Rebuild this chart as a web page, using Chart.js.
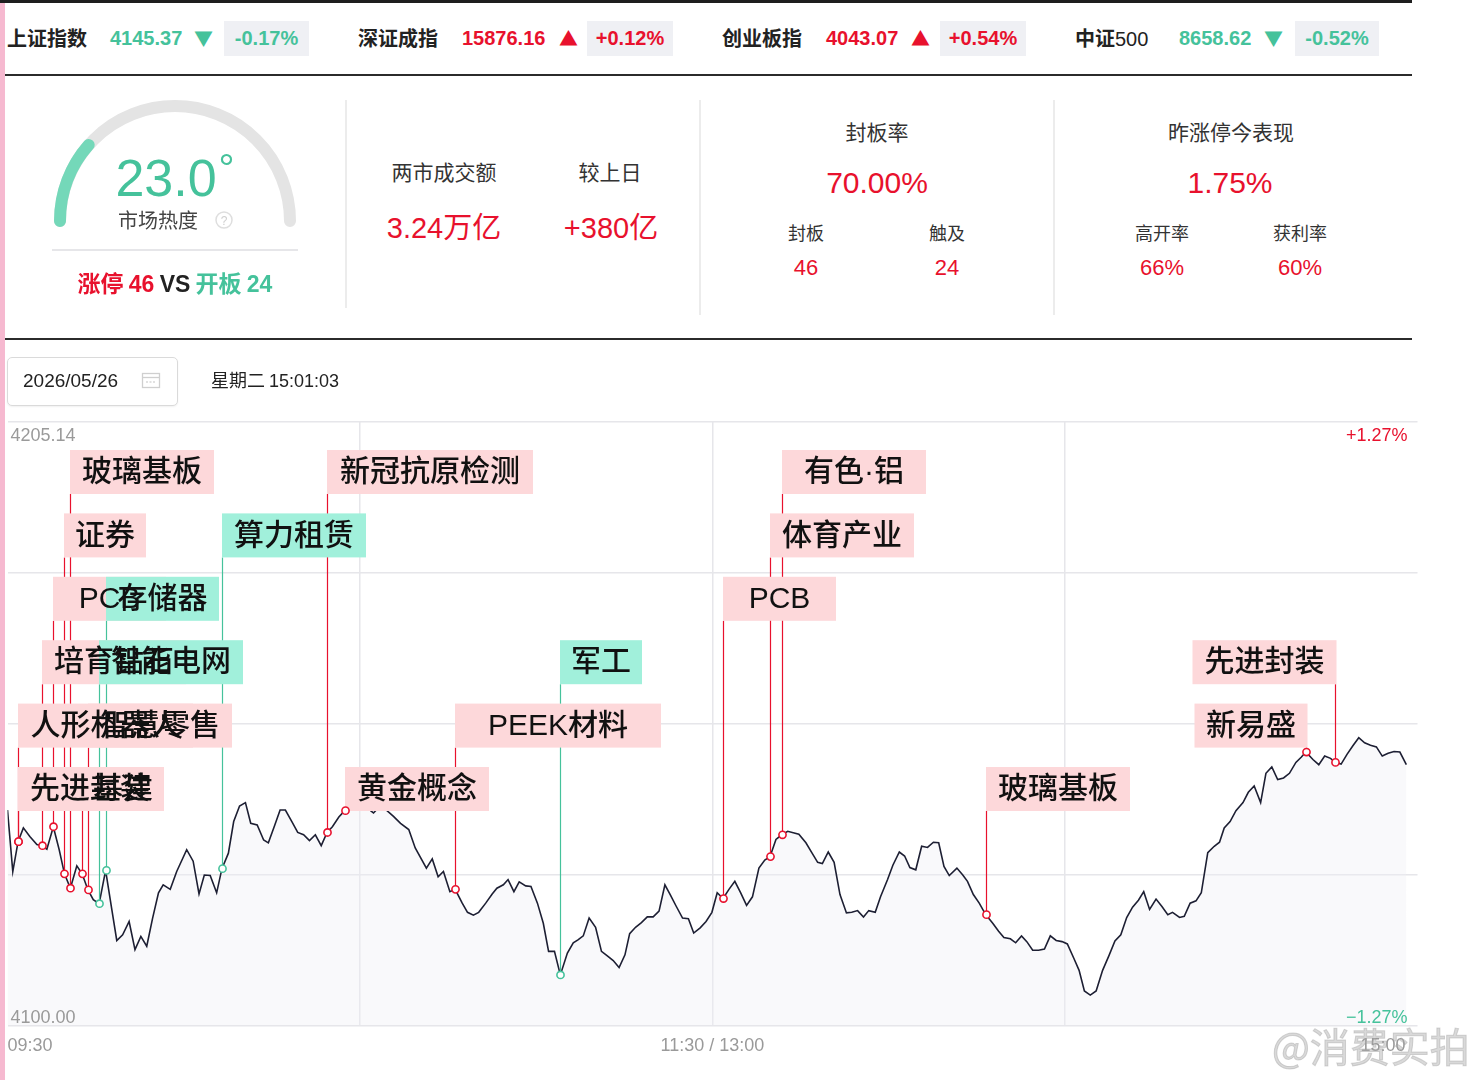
<!DOCTYPE html>
<html lang="zh-CN">
<head>
<meta charset="utf-8">
<title>大盘分时 热点标注</title>
<script src="https://cdn.jsdelivr.net/npm/chart.js"></script>
<style>
    body{margin:0;width:1475px;height:1080px;background:#fff;position:relative;overflow:hidden;
        font-family:"Noto Sans CJK SC","Liberation Sans",sans-serif;color:#222;}
    .a{position:absolute;white-space:nowrap;}
    .c{position:absolute;white-space:nowrap;transform:translateX(-50%);text-align:center;}
    .num{font-family:"Liberation Sans",Arial,sans-serif;}
    .hd{top:24px;height:28px;line-height:28px;font-size:20px;font-weight:bold;}
    .chg{top:21px;height:35px;line-height:35px;background:#eff0f4;text-align:center;font-size:20px;font-weight:bold;}
    .red{color:#e8112d;}
    .green{color:#45c29b;}
    .rule{position:absolute;background:#2b2b2b;}
    .vdiv{position:absolute;width:2px;background:#ececec;}
    #chart{position:absolute;left:0;top:400px;}
</style>
</head>
<body>

<canvas id="chart" width="1475" height="680"></canvas>

<!-- 左侧粉色边条 + 顶部分隔线 -->
<div class="a" style="left:0;top:0;width:5px;height:1080px;background:#f6b9d0;"></div>
<div class="rule" style="left:0;top:0;width:1412px;height:3px;background:#1e1e1e;"></div>

<!-- 指数行 -->
<div class="a hd" style="left:7px;">上证指数</div>
<div class="a hd num green" style="left:110px;">4145.37</div>
<div class="a hd green" style="left:194px;font-size:19px;">▼</div>
<div class="a chg num green" style="left:224px;width:85px;">-0.17%</div>

<div class="a hd" style="left:358px;">深证成指</div>
<div class="a hd num red" style="left:462px;">15876.16</div>
<div class="a hd red" style="left:559px;font-size:19px;">▲</div>
<div class="a chg num red" style="left:587px;width:86px;">+0.12%</div>

<div class="a hd" style="left:722px;">创业板指</div>
<div class="a hd num red" style="left:826px;">4043.07</div>
<div class="a hd red" style="left:911px;font-size:19px;">▲</div>
<div class="a chg num red" style="left:940px;width:86px;">+0.54%</div>

<div class="a hd" style="left:1075px;">中证<span class="num" style="font-weight:normal;">500</span></div>
<div class="a hd num green" style="left:1179px;">8658.62</div>
<div class="a hd green" style="left:1264px;font-size:19px;">▼</div>
<div class="a chg num green" style="left:1295px;width:84px;">-0.52%</div>

<div class="rule" style="left:5px;top:74px;width:1407px;height:2px;"></div>

<!-- 市场热度仪表 -->
<svg class="a" style="left:0;top:80px;" width="350" height="180" viewBox="0 80 350 180">
    <path d="M 60 221 A 115 115 0 0 1 290 221" fill="none" stroke="#e4e4e4" stroke-width="12" stroke-linecap="round"/>
    <path id="heatArc" d="" fill="none" stroke="#74d8b9" stroke-width="12" stroke-linecap="round"/>
</svg>
<div class="c num green" style="left:175px;top:136px;font-size:52px;line-height:64px;">23.0<span style="font-size:40px;vertical-align:14px;margin-left:2px;">°</span></div>
<div class="a" style="left:118px;top:207px;font-size:20px;line-height:26px;color:#444;">市场热度</div>
<svg class="a" style="left:214px;top:210px;" width="20" height="20">
    <circle cx="10" cy="10" r="8" fill="none" stroke="#dedede" stroke-width="1.5"/>
    <text x="10" y="14.5" font-size="12" text-anchor="middle" fill="#cfcfcf" font-family="Liberation Sans">?</text>
</svg>
<div class="a" style="left:52px;top:249px;width:246px;height:2px;background:#e6e6e9;"></div>
<div class="c" style="left:175px;top:267px;font-size:23px;line-height:30px;font-weight:bold;">
    <span class="red">涨停 <span class="num">46</span></span> <span class="num">VS</span> <span class="green">开板 <span class="num">24</span></span>
</div>

<div class="vdiv" style="left:345px;top:100px;height:208px;"></div>
<div class="vdiv" style="left:699px;top:100px;height:215px;"></div>
<div class="vdiv" style="left:1053px;top:100px;height:215px;"></div>

<!-- 成交额 -->
<div class="c" style="left:444px;top:157px;font-size:21px;line-height:28px;color:#333;">两市成交额</div>
<div class="c" style="left:610px;top:157px;font-size:21px;line-height:28px;color:#333;">较上日</div>
<div class="c red" style="left:444px;top:205px;font-size:29px;line-height:40px;"><span class="num">3.24</span>万亿</div>
<div class="c red" style="left:611px;top:205px;font-size:29px;line-height:40px;"><span class="num">+380</span>亿</div>

<!-- 封板率 -->
<div class="c" style="left:877px;top:117px;font-size:21px;line-height:28px;color:#333;">封板率</div>
<div class="c num red" style="left:877px;top:163px;font-size:30px;line-height:40px;">70.00%</div>
<div class="c" style="left:806px;top:219px;font-size:18px;line-height:26px;color:#333;">封板</div>
<div class="c" style="left:947px;top:219px;font-size:18px;line-height:26px;color:#333;">触及</div>
<div class="c num red" style="left:806px;top:254px;font-size:22px;line-height:28px;">46</div>
<div class="c num red" style="left:947px;top:254px;font-size:22px;line-height:28px;">24</div>

<!-- 昨涨停今表现 -->
<div class="c" style="left:1231px;top:117px;font-size:21px;line-height:28px;color:#333;">昨涨停今表现</div>
<div class="c num red" style="left:1230px;top:163px;font-size:30px;line-height:40px;">1.75%</div>
<div class="c" style="left:1162px;top:219px;font-size:18px;line-height:26px;color:#333;">高开率</div>
<div class="c" style="left:1300px;top:219px;font-size:18px;line-height:26px;color:#333;">获利率</div>
<div class="c num red" style="left:1162px;top:254px;font-size:22px;line-height:28px;">66%</div>
<div class="c num red" style="left:1300px;top:254px;font-size:22px;line-height:28px;">60%</div>

<div class="rule" style="left:5px;top:338px;width:1407px;height:2px;"></div>

<!-- 日期行 -->
<div class="a" style="left:7px;top:357px;width:169px;height:47px;border:1px solid #dadada;border-radius:5px;box-shadow:0 1px 2px rgba(0,0,0,0.06);background:#fff;"></div>
<div class="a num" style="left:23px;top:368px;font-size:19px;line-height:26px;color:#222;">2026/05/26</div>
<svg class="a" style="left:141px;top:371px;" width="20" height="18">
    <rect x="1.5" y="2.5" width="17" height="14" fill="none" stroke="#cfcfcf" stroke-width="1.3"/>
    <line x1="1.5" y1="6.5" x2="18.5" y2="6.5" stroke="#cfcfcf" stroke-width="1.3"/>
    <line x1="5" y1="11" x2="15" y2="11" stroke="#d8d8d8" stroke-width="1.3" stroke-dasharray="2 1.5"/>
</svg>
<div class="a" style="left:211px;top:366px;font-size:18px;line-height:26px;color:#222;">星期二 <span class="num">15:01:03</span></div>

<!-- 水印 -->
<div class="a" style="left:1272px;top:1018px;font-size:40px;line-height:54px;color:rgba(170,170,170,0.45);-webkit-text-stroke:1px rgba(150,150,150,0.35);">@消费实拍</div>

<script>
// 分时数据: 距 09:30 的分钟数 (午休折叠, 120 = 11:30/13:00)
const minutes = [
    0, 0.9, 1.8, 2.7, 3.8, 5.0, 5.8, 6.7, 7.8, 8.8,
    9.7, 10.7, 11.8, 12.7, 13.7, 14.6, 15.6, 16.7, 17.8, 18.6,
    19.6, 20.7, 21.7, 22.7, 23.7, 24.7, 25.7, 26.5, 27.7, 28.8,
    30.5, 31.6, 32.6, 33.5, 34.5, 35.6, 36.5, 37.6, 38.5, 39.5,
    40.5, 41.4, 42.5, 43.6, 44.4, 45.5, 46.4, 47.3, 48.4, 49.4,
    50.4, 51.4, 52.4, 53.4, 54.4, 55.3, 56.4, 57.4, 58.4, 59.4,
    60.4, 61.4, 62.3, 63.3, 64.5, 65.7, 66.9, 68.3, 69.4, 71.3,
    72.3, 73.3, 74.2, 75.3, 76.2, 77.4, 78.3, 79.3, 80.2, 81.4,
    82.5, 83.3, 84.4, 85.2, 86.2, 87.1, 88.2, 89.1, 90.2, 91.2,
    92.1, 93.1, 94.1, 95.3, 96.3, 97.1, 98.0, 99.0, 100.1, 101.1,
    102.1, 103.1, 104.1, 105.1, 105.9, 106.9, 107.9, 108.9, 109.9, 110.9,
    111.9, 112.8, 113.8, 114.9, 115.9, 116.8, 117.9, 118.9, 119.9, 120.8,
    121.8, 122.8, 123.8, 124.8, 125.8, 126.8, 127.9, 128.9, 129.8, 130.8,
    131.8, 132.8, 134.7, 135.9, 136.9, 137.9, 138.7, 139.7, 140.7, 141.7,
    142.8, 143.7, 144.7, 145.7, 146.6, 147.7, 148.6, 149.8, 150.7, 151.8,
    152.7, 153.6, 154.6, 155.6, 156.6, 157.6, 158.5, 159.4, 160.3, 161.6,
    162.6, 163.4, 164.4, 165.4, 166.5, 167.7, 168.7, 169.6, 170.7, 171.6,
    172.6, 173.5, 174.5, 175.5, 176.5, 177.5, 178.5, 179.5, 180.4, 181.5,
    182.4, 183.3, 184.3, 185.3, 186.4, 187.5, 188.5, 189.5, 190.5, 191.5,
    192.5, 193.4, 194.4, 195.5, 196.5, 197.5, 198.3, 199.5, 200.3, 201.3,
    202.3, 203.2, 204.3, 205.4, 206.3, 207.1, 208.1, 209.1, 210.3, 211.2,
    212.2, 213.3, 214.2, 215.2, 216.2, 217.2, 218.2, 219.3, 220.2, 221.0,
    222.2, 223.2, 224.2, 225.2, 226.0, 227.0, 228.0, 229.0, 230.0, 231.0,
    232.0, 233.0, 234.0, 235.0, 236.0, 237.0, 238.1
];

const prices = [
    4137.5, 4126.8, 4132.0, 4134.4, 4132.9, 4131.5, 4131.3, 4130.7, 4134.6, 4130.6,
    4126.4, 4123.9, 4127.8, 4126.4, 4123.6, 4121.9, 4121.2, 4127.0, 4119.9, 4114.8,
    4115.8, 4118.1, 4113.2, 4115.5, 4113.8, 4118.7, 4123.1, 4124.5, 4123.7, 4126.8,
    4130.6, 4128.6, 4122.9, 4126.2, 4126.1, 4123.1, 4127.3, 4130.0, 4135.5, 4138.2,
    4138.8, 4135.2, 4134.9, 4132.3, 4131.8, 4134.9, 4137.5, 4137.5, 4135.5, 4133.6,
    4133.2, 4132.2, 4133.2, 4131.3, 4133.6, 4134.6, 4136.3, 4137.4, 4138.2, 4138.8,
    4138.2, 4137.7, 4137.0, 4138.1, 4137.5, 4136.4, 4135.2, 4134.1, 4130.9, 4127.4,
    4129.0, 4125.9, 4126.8, 4123.3, 4123.7, 4121.3, 4119.7, 4119.2, 4119.7, 4121.3,
    4122.9, 4123.9, 4124.5, 4125.4, 4123.3, 4125.0, 4124.3, 4124.2, 4121.3, 4117.8,
    4112.9, 4112.9, 4108.8, 4112.6, 4114.4, 4114.9, 4115.6, 4118.7, 4117.1, 4112.9,
    4112.1, 4111.3, 4110.1, 4112.3, 4116.0, 4117.1, 4117.9, 4118.9, 4118.9, 4119.9,
    4124.5, 4122.8, 4120.8, 4118.7, 4118.6, 4116.1, 4117.0, 4118.1, 4119.7, 4123.1,
    4122.1, 4123.7, 4125.1, 4123.1, 4120.9, 4122.4, 4127.4, 4128.8, 4129.4, 4132.4,
    4133.2, 4133.8, 4133.3, 4131.8, 4130.1, 4128.4, 4128.2, 4130.2, 4128.4, 4122.8,
    4119.6, 4119.7, 4120.0, 4118.9, 4120.0, 4119.7, 4122.4, 4125.4, 4127.9, 4130.2,
    4129.5, 4127.5, 4127.1, 4131.2, 4131.0, 4131.9, 4131.8, 4127.7, 4126.1, 4127.4,
    4126.2, 4125.1, 4122.8, 4121.3, 4119.3, 4117.8, 4116.4, 4115.3, 4115.1, 4114.4,
    4115.6, 4114.6, 4113.1, 4113.1, 4113.3, 4115.6, 4114.8, 4114.6, 4114.2, 4111.7,
    4109.6, 4106.0, 4105.3, 4106.0, 4109.6, 4112.2, 4114.7, 4115.8, 4118.8, 4120.6,
    4121.8, 4123.3, 4120.2, 4122.0, 4120.7, 4119.3, 4119.7, 4118.8, 4119.0, 4121.3,
    4121.7, 4123.1, 4130.1, 4131.2, 4131.9, 4134.4, 4135.5, 4137.4, 4138.8, 4140.6,
    4141.7, 4138.8, 4143.9, 4145.0, 4142.8, 4143.1, 4143.9, 4145.8, 4146.7, 4147.6,
    4146.3, 4145.4, 4146.9, 4146.5, 4145.8, 4145.5, 4147.2, 4148.7, 4150.1, 4149.2,
    4148.8, 4148.5, 4146.9, 4147.4, 4147.7, 4147.6, 4145.4
];

const prevClose = 4152.57;
const yTicks = [4100.00, 4126.29, 4152.57, 4178.86, 4205.14];
const xTickMinutes = [0, 60, 120, 180, 240];
const xTickLabels = ["09:30", "", "11:30 / 13:00", "", "15:00"];

// 热点标签 (按时间排序), kind: up = 红, down = 绿
const tagNames = ["先进封装", "人形机器人", "培育钻石", "PCB", "证券", "玻璃基板", "基建", "智慧零售",
    "智能电网", "存储器", "算力租赁", "新冠抗原检测", "黄金概念", "PEEK材料", "军工", "PCB",
    "体育产业", "有色·铝", "玻璃基板", "新易盛", "先进封装"];
const tagMinutes = [1.8, 1.8, 5.8, 7.8, 9.7, 10.7, 12.7, 13.7, 15.6, 16.7, 36.5, 54.4, 57.4,
    76.2, 94.1, 121.8, 129.8, 131.8, 166.5, 221.0, 226.0];
const tagKinds = ["up", "up", "up", "up", "up", "up", "up", "up", "down", "down", "down", "up", "up",
    "up", "down", "up", "up", "up", "up", "up", "up"];

const marketHeat = 23.0;

const RED = "#e8112d";
const GREEN = "#45c29b";

//仪表盘绿色弧线
function drawHeatArc(){
    const cx = 175, cy = 221, r = 115;
    const ang = Math.PI + Math.PI * marketHeat / 100;
    const x = cx + r * Math.cos(ang), y = cy + r * Math.sin(ang);
    document.getElementById("heatArc").setAttribute("d",
        "M " + (cx - r) + " " + cy + " A " + r + " " + r + " 0 0 1 " + x.toFixed(1) + " " + y.toFixed(1));
}

//标签布局: 六行循环, 越界则改为右对齐
function layoutTags(chart){
    const area = chart.chartArea;
    const xs = chart.scales.x, ys = chart.scales.y;
    const tags = [];
    tagNames.forEach(function (name, i){
        const j = minutes.indexOf(tagMinutes[i]);
        const px = Math.round(xs.getPixelForValue(minutes[j])) + 0.5;
        const py = ys.getPixelForValue(prices[j]);
        const row = i % 6;
        const w = [...name].length * 31 + 20;
        const h = 44;
        const top = area.top + 345.5 - row * 63.4;
        let left = px - 0.5;
        if (px + w > area.right - 30) left = px - w + 1;
        tags.push({name: name, px: px, py: py, left: left, top: top, w: w, h: h, up: tagKinds[i] === "up"});
    });
    return tags;
}

const tagPlugin = {
    id: "tagPlugin",
    afterDatasetsDraw: function (chart){
        const ctx = chart.ctx;
        const tags = layoutTags(chart);
        ctx.save();
        //连线
        ctx.lineWidth = 1.2;
        tags.forEach(function (t){
            ctx.strokeStyle = t.up ? RED : GREEN;
            ctx.beginPath();
            ctx.moveTo(t.px, t.top + t.h);
            ctx.lineTo(t.px, t.py);
            ctx.stroke();
        });
        //底色块
        tags.forEach(function (t){
            ctx.fillStyle = t.up ? "#fdd8da" : "#a1f0db";
            ctx.fillRect(t.left, t.top, t.w, t.h);
        });
        //文字
        ctx.fillStyle = "#111";
        ctx.font = '500 30px "Liberation Sans", "Noto Sans CJK SC"';
        ctx.textAlign = "center";
        ctx.textBaseline = "middle";
        tags.forEach(function (t){
            ctx.fillText(t.name, t.left + t.w / 2, t.top + t.h / 2 + 1);
        });
        //圆点
        ctx.lineWidth = 1.6;
        tags.forEach(function (t){
            ctx.strokeStyle = t.up ? RED : GREEN;
            ctx.fillStyle = "#fff";
            ctx.beginPath();
            ctx.arc(t.px, t.py, 3.6, 0, Math.PI * 2);
            ctx.fill();
            ctx.stroke();
        });
        ctx.restore();
    }
};

//坐标文字 (价格, 涨跌幅, 时间)
const axisTextPlugin = {
    id: "axisTextPlugin",
    afterDraw: function (chart){
        const ctx = chart.ctx, area = chart.chartArea;
        const xs = chart.scales.x;
        const top = yTicks[yTicks.length - 1], bottom = yTicks[0];
        const pct = ((top / prevClose - 1) * 100).toFixed(2);
        ctx.save();
        ctx.font = '18px "Liberation Sans"';
        ctx.textBaseline = "alphabetic";
        ctx.fillStyle = "#9a9a9a";
        ctx.textAlign = "left";
        ctx.fillText(top.toFixed(2), area.left + 3, area.top + 19);
        ctx.fillText(bottom.toFixed(2), area.left + 3, area.bottom - 3);
        ctx.textAlign = "right";
        ctx.fillStyle = RED;
        ctx.fillText("+" + pct + "%", area.right - 10, area.top + 19);
        ctx.fillStyle = GREEN;
        ctx.fillText("\u2212" + pct + "%", area.right - 10, area.bottom - 3);
        ctx.fillStyle = "#9a9a9a";
        xTickLabels.forEach(function (lab, i){
            if (!lab) return;
            const x = xs.getPixelForValue(xTickMinutes[i]);
            ctx.textAlign = i === 0 ? "left" : (i === xTickLabels.length - 1 ? "right" : "center");
            ctx.fillText(lab, i === xTickLabels.length - 1 ? x - 12 : x, area.bottom + 25);
        });
        ctx.restore();
    }
};

function buildChart(){
    const points = minutes.map(function (m, i){ return {x: m, y: prices[i]}; });

    const data = {
        datasets: [{
            label: "上证指数",
            data: points,
            borderColor: "#1d1f33",
            borderWidth: 1.6,
            backgroundColor: "rgba(240,240,244,0.38)",
            fill: "start",
            pointRadius: 0,
            tension: 0
        }]
    };

    const config = {
        type: "line",
        data: data,
        options: {
            responsive: false,
            devicePixelRatio: 1,
            animation: false,
            layout: {padding: {left: 7.5, right: 57.5, top: 21.5, bottom: 54.5}},
            plugins: {legend: {display: false}, tooltip: {enabled: false}},
            scales: {
                x: {
                    type: "linear",
                    min: 0,
                    max: 240,
                    afterBuildTicks: function (axis){ axis.ticks = xTickMinutes.map(function (v){ return {value: v}; }); },
                    ticks: {display: false},
                    border: {display: false},
                    grid: {
                        drawTicks: false,
                        lineWidth: 1.5,
                        color: function (c){ return (c.tick && (c.tick.value === 0 || c.tick.value === 240)) ? "rgba(0,0,0,0)" : "#e6e6ea"; }
                    }
                },
                y: {
                    min: yTicks[0],
                    max: yTicks[yTicks.length - 1],
                    afterBuildTicks: function (axis){ axis.ticks = yTicks.map(function (v){ return {value: v}; }); },
                    ticks: {display: false},
                    border: {display: false},
                    grid: {drawTicks: false, lineWidth: 1.5, color: "#e6e6ea"}
                }
            }
        },
        plugins: [tagPlugin, axisTextPlugin]
    };

    displayChart(config);
}

function displayChart(config){
    let chart = new Chart(document.getElementById("chart"), config);
}

drawHeatArc();
buildChart();
</script>
</body>
</html>
